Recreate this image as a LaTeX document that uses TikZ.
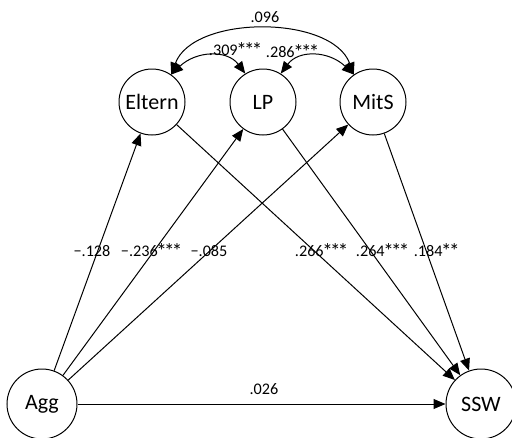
\documentclass[tikz,border=0pt]{standalone}
\usepackage{fontspec}
\setmainfont{Carlito}
\usepackage{graphicx}
\usetikzlibrary{arrows.meta}
\newcommand\sigstar{\makebox[0.48em]{\raisebox{-0.1em}{\scalebox{1.3}{*}}}}
\begin{document}
\begin{tikzpicture}[x=1pt,y=-1pt,
  var/.style={circle,draw,line width=1pt,inner sep=0pt,font=\fontsize{22}{22}\selectfont},
  upvar/.style={var,minimum size=66pt},
  lowvar/.style={var,minimum size=70pt},
  reg/.style={line width=1pt,-{Triangle[length=12pt,width=10pt]}},
  cov/.style={line width=1pt,{Triangle[length=12pt,width=10pt]}-{Triangle[length=12pt,width=10pt]}},
  lab/.style={font=\fontsize{16.2}{16.2}\selectfont,inner sep=0pt}]
\useasboundingbox (0,0) rectangle (512,437);
\node[upvar] (E) at (152,102) {Eltern};
\node[upvar] (L) at (263,102) {LP};
\node[upvar] (M) at (373,102) {MitS};
\node[lowvar] (A) at (42,404) {Agg};
\node[lowvar] (S) at (481,404) {SSW};
% covariances
\draw[cov] (E.55) .. controls +(22,-60) and +(-22,-60) .. (M.125);
\draw[cov] (E.55) .. controls +(25,-24) and +(-18,-24) .. (L.122);
\draw[cov] (L.58) .. controls +(18,-24) and +(-25,-24) .. (M.125);
\node[lab] (c1) at (265,17) {.096};
\node[lab] (c2) at (235,50) {.309\sigstar\sigstar\sigstar};
\node[lab] (c3) at (292,52) {.286\sigstar\sigstar\sigstar};
% regressions
\draw[reg] (A) -- (E);
\draw[reg] (A) -- (L);
\draw[reg] (A) -- (M);
\draw[reg] (E) -- (S);
\draw[reg] (L) -- (S);
\draw[reg] (M) -- (S);
\draw[reg] (A) -- (S);
\node[lab] (r1) at (92,251) {−.128};
\node[lab] (r2) at (151,251) {−.236\sigstar\sigstar\sigstar};
\node[lab] (r3) at (209,251) {−.085};
\node[lab] (r4) at (321,251) {.266\sigstar\sigstar\sigstar};
\node[lab] (r5) at (382,251) {.264\sigstar\sigstar\sigstar};
\node[lab] (r6) at (436,251) {.184\sigstar\sigstar};
\node[lab] (r7) at (264,389) {.026};
\end{tikzpicture}
\end{document}
